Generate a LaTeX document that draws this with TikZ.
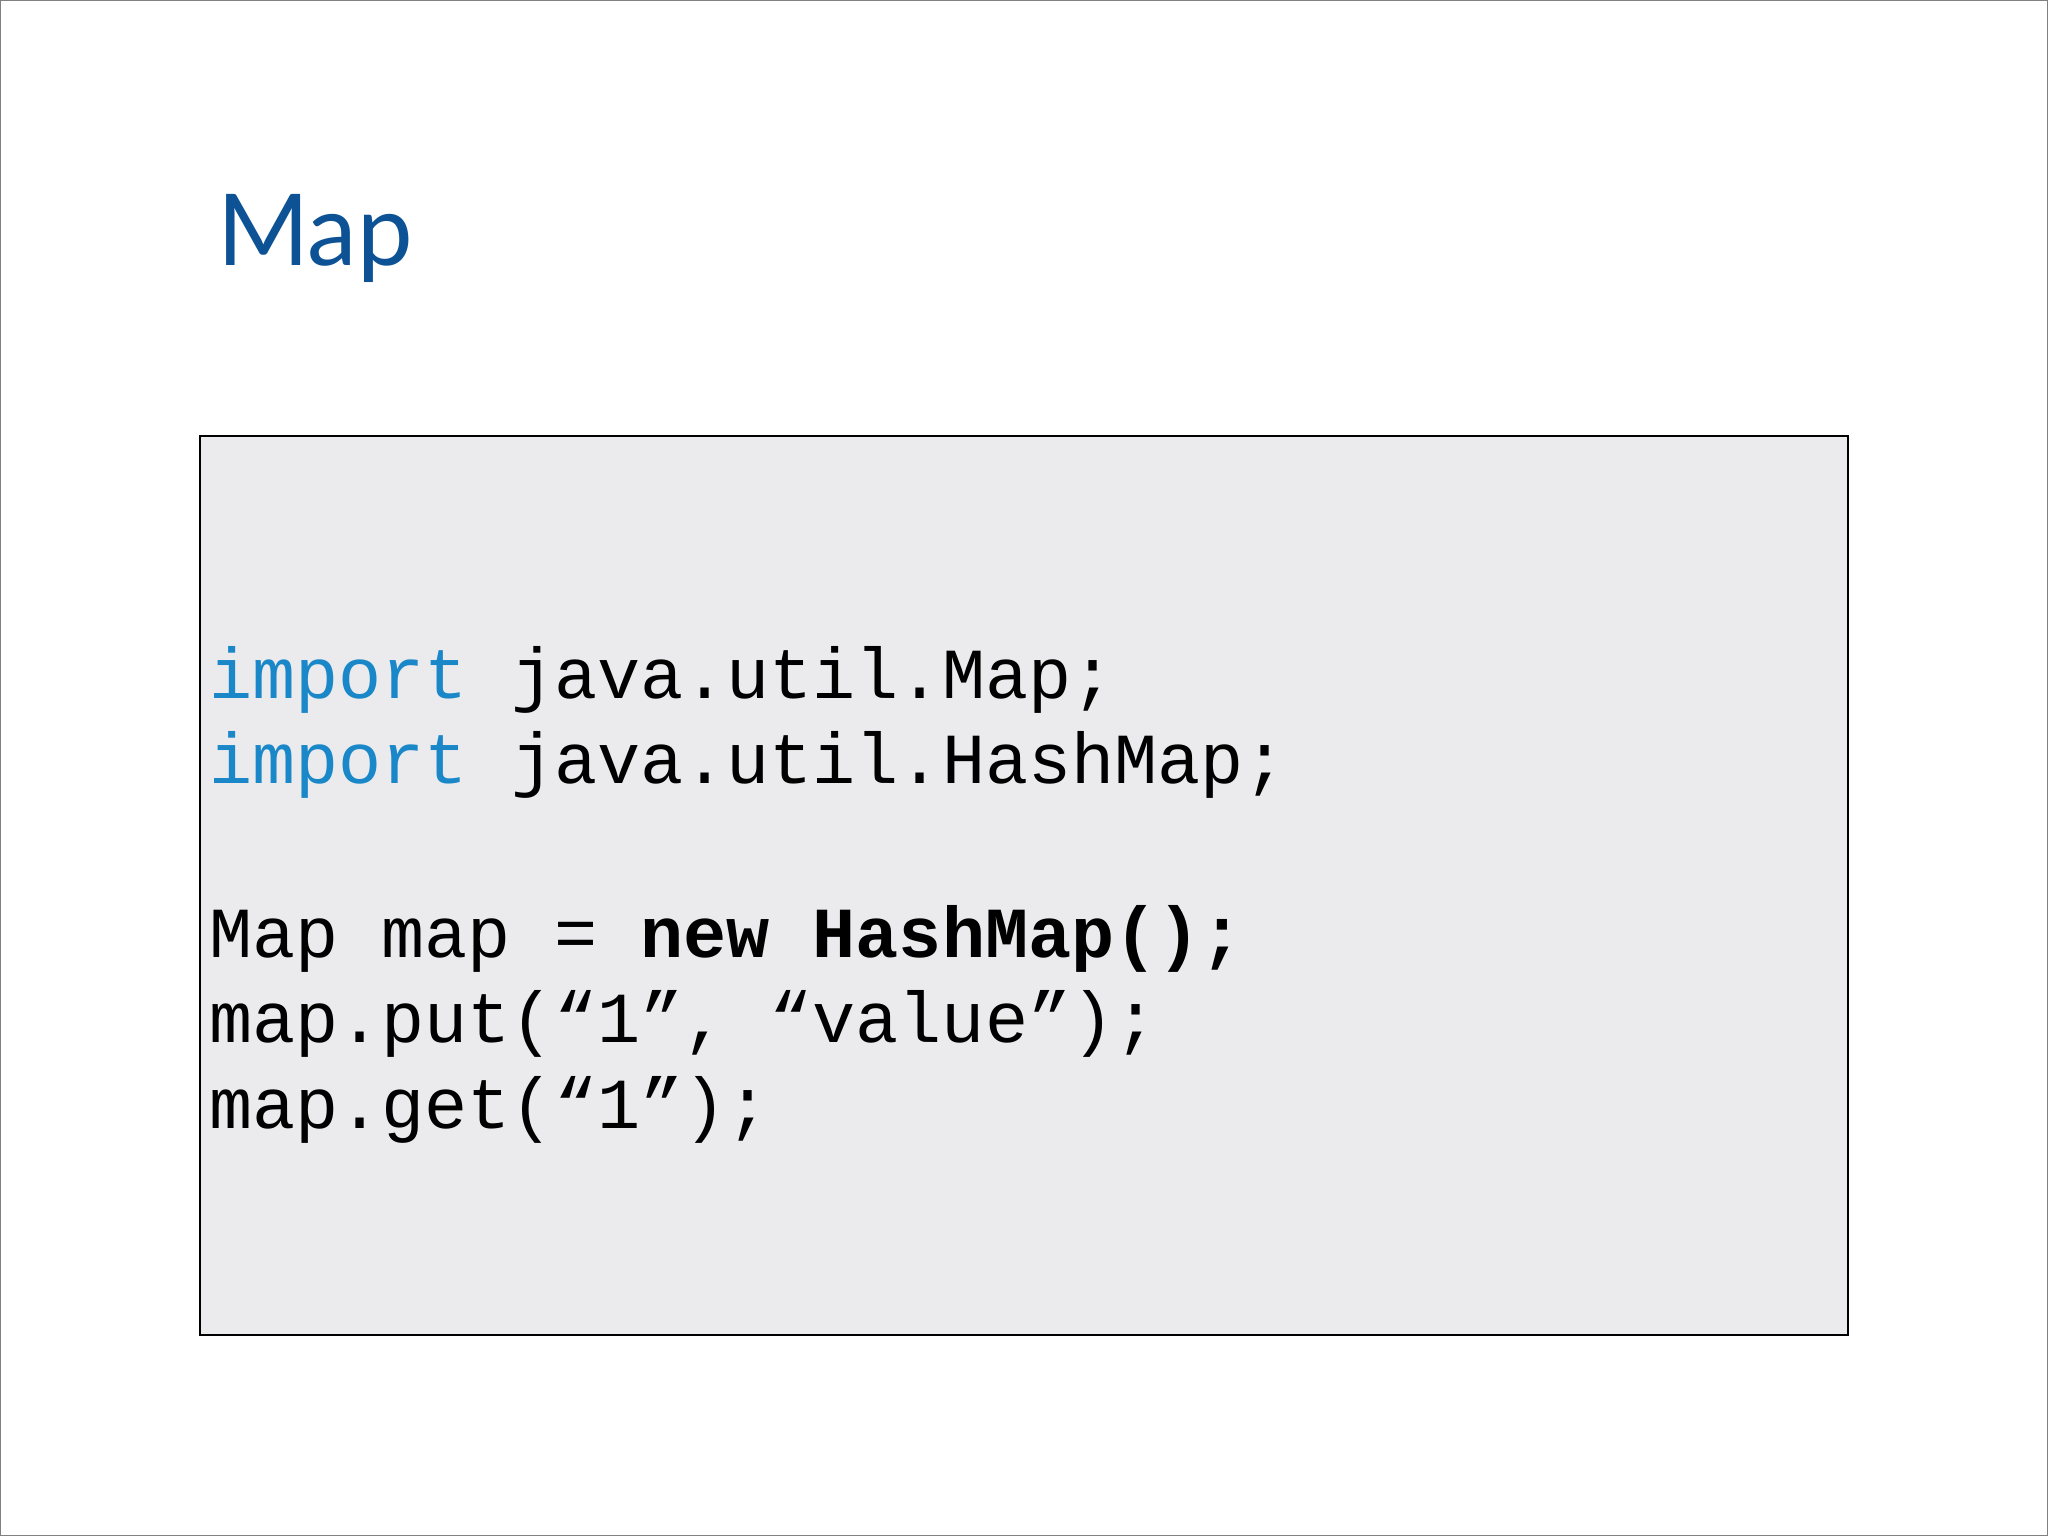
\documentclass[tikz,border=0pt]{standalone}
\usepackage{fontspec}
\setmonofont{Liberation Mono}
\newfontfamily\titlefont{Lato}
\definecolor{titleblue}{RGB}{12,82,148}
\definecolor{kwblue}{RGB}{25,135,200}
\definecolor{boxgray}{RGB}{235,234,236}
\begin{document}
\begin{tikzpicture}[x=1pt,y=-1pt,
  codeline/.style={anchor=base west,inner sep=0pt,font=\fontsize{55}{60}\selectfont\ttfamily}]
\useasboundingbox (0,0) rectangle (1568,1176);
\draw[gray,line width=1pt] (0.5,0.5) rectangle (1567.5,1175.5);
\node[anchor=base west,inner sep=0pt,text=titleblue,font=\fontsize{76}{80}\selectfont\titlefont] (title) at (166,203) {Map};
\draw[fill=boxgray,line width=1.2pt] (153,334) rectangle (1415,1022);
\node[codeline] (l1) at (160,535) {\textcolor{kwblue}{import} java.util.Map;};
\node[codeline] (l2) at (160,600) {\textcolor{kwblue}{import} java.util.HashMap;};
\node[codeline] (l3) at (160,733) {Map map = \textbf{new HashMap();}};
\node[codeline] (l4) at (160,798) {map.put(“1”, “value”);};
\node[codeline] (l5) at (160,864) {map.get(“1”);};
\end{tikzpicture}
\end{document}
